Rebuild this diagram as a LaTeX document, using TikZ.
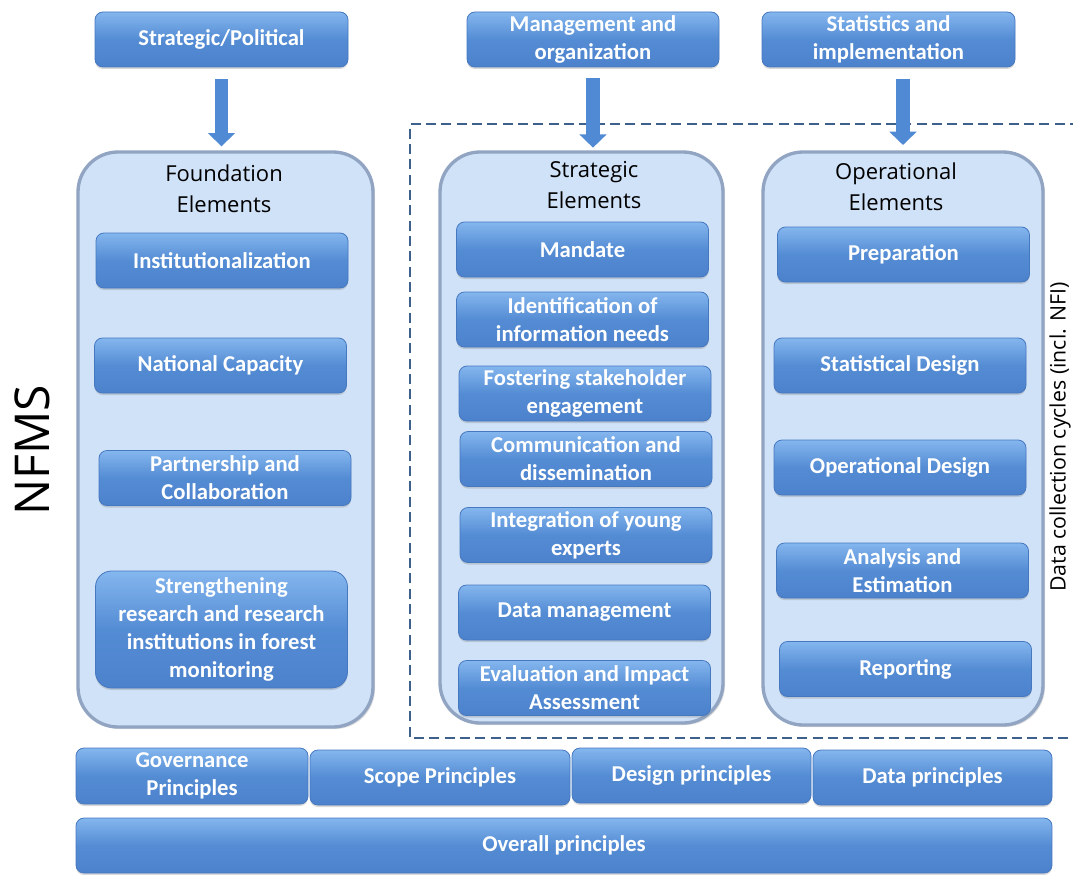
\documentclass[tikz,border=0pt]{standalone}
\usepackage{fontspec}
\setmainfont{Carlito}
\newfontfamily\titlefont{Open Sans}
\usetikzlibrary{positioning, arrows.meta, shadows}

\definecolor{boxtop}{RGB}{132,182,238}
\definecolor{boxmid}{RGB}{84,140,212}
\definecolor{boxbot}{RGB}{76,130,204}
\definecolor{boxedge}{RGB}{70,120,192}
\definecolor{colfill}{RGB}{208,226,248}
\definecolor{coledge}{RGB}{145,165,195}
\definecolor{arrowblue}{RGB}{80,138,212}
\definecolor{dashblue}{RGB}{62,96,140}

\tikzset{
  elem/.style={draw=boxedge, line width=0.6pt, top color=boxtop, bottom color=boxbot,
    middle color=boxmid, rounded corners=6pt, text=white,
    font=\bfseries\fontsize{17}{21}\selectfont, align=center,
    minimum width=189pt, minimum height=41.25pt, inner sep=1pt,
    drop shadow={shadow xshift=0pt, shadow yshift=-1.5pt, opacity=0.3}},
  column/.style={draw=coledge, line width=2.5pt, fill=colfill, rounded corners=30pt,
    drop shadow={shadow xshift=1.5pt, shadow yshift=-1.5pt, opacity=0.25}},
  coltitle/.style={font=\titlefont\fontsize{16.5}{23}\selectfont, align=center},
  bigarrow/.style={draw=arrowblue, line width=10pt, -{Triangle[length=10pt, width=20pt]}}
}

\begin{document}
\begin{tikzpicture}[x=0.75pt, y=-0.75pt]
  \useasboundingbox (0,0) rectangle (1073,874);

  % top headers
  \node[elem, minimum width=189.75pt] (sp) at (221.5, 39.5) {Strategic/Political};
  \node[elem] (mo) at (593, 39.5) {Management and\\organization};
  \node[elem, minimum width=189.75pt] (si) at (888.5, 39.5) {Statistics and\\implementation};

  % data collection frame
  \coordinate (dtr) at (1080, 124);
  \coordinate (dtl) at (410, 124);
  \coordinate (dbl) at (410, 738);
  \coordinate (dbr) at (1080, 738);
  \draw[dashblue, line width=2.2pt, dash pattern=on 7.5pt off 4pt] (dtr) -- (dtl) -- (dbl) -- (dbr);

  % columns
  \node[column, minimum width=221.25pt, minimum height=431.25pt] (found) at (225.5, 439.5) {};
  \node[column, minimum width=212.25pt, minimum height=428.25pt] (strat) at (581.5, 437.5) {};
  \node[column, minimum width=210pt, minimum height=429.75pt] (oper) at (903, 438.5) {};

  \node[coltitle] (foundtitle) at (224, 189) {Foundation\\Elements};
  \node[coltitle] (strattitle) at (594, 185) {Strategic\\Elements};
  \node[coltitle] (opertitle) at (896, 187) {Operational\\Elements};

  % arrows
  \draw[bigarrow, shorten <=9pt, shorten >=3pt] (sp.south) -- (sp.south |- found.north);
  \draw[bigarrow, shorten <=8pt, shorten >=2pt] (mo.south) -- (mo.south |- strat.north);
  \draw[bigarrow, shorten <=9pt, shorten >=4pt] (si.south -| oper.north) -- (oper.north);

  % foundation elements
  \node[elem] (inst) at (222, 260.5) {Institutionalization};
  \node[elem] (natcap) at (220.5, 365.5) {National Capacity};
  \node[elem] (partner) at (225, 478) {Partnership and\\Collaboration};
  \node[elem, minimum height=87.75pt, rounded corners=12pt] (research) at (221.5, 629.5)
    {Strengthening\\research and research\\institutions in forest\\monitoring};

  % strategic elements
  \node[elem] (mandate) at (582.5, 249.5) {Mandate};
  \node[elem] (infoneeds) at (582.5, 319.5) {Identification of\\information needs};
  \node[elem] (stakeh) at (585, 393.5) {Fostering stakeholder\\engagement};
  \node[elem] (comm) at (586, 459) {Communication and\\dissemination};
  \node[elem] (young) at (586, 535) {Integration of young\\experts};
  \node[elem] (datamgmt) at (584.5, 612.5) {Data management};
  \node[elem] (evaluation) at (584.5, 688) {Evaluation and Impact\\Assessment};

  % operational elements
  \node[elem] (prep) at (903.5, 254.5) {Preparation};
  \node[elem] (statdesign) at (900, 365.5) {Statistical Design};
  \node[elem] (opdesign) at (900, 467.5) {Operational Design};
  \node[elem] (analysis) at (902.5, 570.5) {Analysis and\\Estimation};
  \node[elem] (reporting) at (905.5, 669) {Reporting};

  % principles
  \node[elem, minimum width=174pt, minimum height=42pt] (gov) at (192, 776) {Governance\\Principles};
  \node[elem, minimum width=195pt] (scope) at (440, 777.5) {Scope Principles};
  \node[elem, minimum width=179.25pt] (design) at (691.5, 775.5) {Design principles};
  \node[elem, minimum width=179.25pt] (data) at (932.5, 777.5) {Data principles};
  \node[elem, minimum width=732pt] (overall) at (564, 845.5) {Overall principles};

  % side labels
  \node[font=\titlefont\fontsize{36}{36}\selectfont, rotate=90] (nfms) at (32, 450) {NFMS};
  \node[font=\titlefont\fontsize{16}{16}\selectfont, rotate=90] (cycles) at (1060, 437)
    {Data collection cycles (incl. NFI)};
\end{tikzpicture}
\end{document}
